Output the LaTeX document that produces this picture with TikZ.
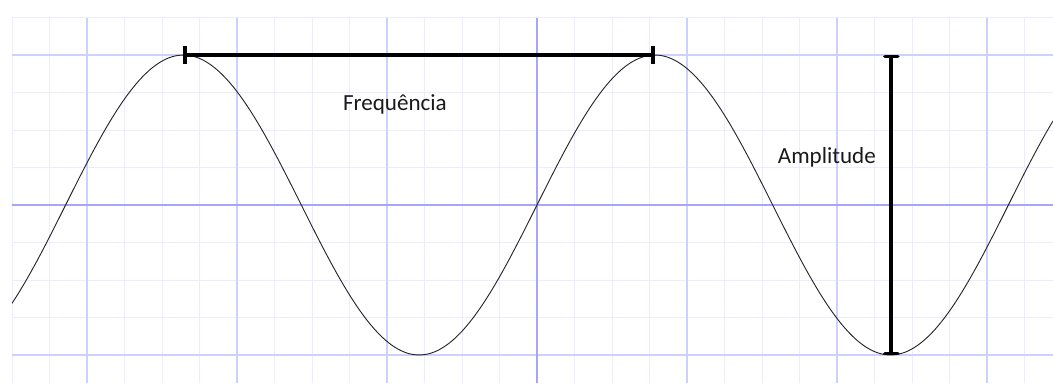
\documentclass[tikz,border=0pt]{standalone}
\usepackage{fontspec}
\setmainfont{Carlito}
\usetikzlibrary{arrows.meta}
\definecolor{gridminor}{RGB}{236,236,255}
\definecolor{gridmajor}{RGB}{208,208,255}
\definecolor{gridaxis}{RGB}{165,165,250}
\definecolor{labeltext}{HTML}{1A1A1A}

\begin{document}
\begin{tikzpicture}[
  minorgrid/.style={gridminor, line width=0.7pt},
  majorgrid/.style={gridmajor, line width=0.9pt},
  axisline/.style={gridaxis, line width=1.1pt},
  wave/.style={black!85, line width=0.7pt},
  bar/.style={black, line width=3pt},
  lbl/.style={labeltext, font=\fontsize{17.5}{20}\selectfont, inner sep=0pt}
]
  \useasboundingbox (-14.32,-4.747) rectangle (13.76,5.467);

  % Grid paper
  \draw[minorgrid, step=1] (-14,-4.75) grid (13.76,5);
  \draw[majorgrid, step=4] (-14,-4.75) grid (13.76,5);
  \draw[axisline] (-14,0) -- (13.76,0);
  \draw[axisline] (0,-4.75) -- (0,5);

  % The wave
  \begin{scope}
    \clip (-14,-4.75) rectangle (13.76,5);
    \draw[wave, smooth, samples=240, domain=-14:13.76, variable=\t]
      plot (\t, {4*sin(360*\t/12.57)});
  \end{scope}

  % Measured points
  \coordinate (peakA) at (-9.43,4);
  \coordinate (peakB) at (3.14,4);
  \coordinate (ampTop) at (9.45,4);
  \coordinate (ampBot) at (9.45,-4);

  % Bars
  \draw[bar, {Bar[width=13pt,line width=3pt]}-{Bar[width=13pt,line width=3pt]}] (peakA) -- (peakB);
  \draw[bar, {Bar[width=10pt,line width=2.4pt,round]}-{Bar[width=10pt,line width=2.4pt,round]}] (ampTop) -- (ampBot);

  % Labels
  \node[lbl] (freq) at (-3.79,2.67) {Frequência};
  \node[lbl] (amp) at (7.73,1.28) {Amplitude};
\end{tikzpicture}
\end{document}
